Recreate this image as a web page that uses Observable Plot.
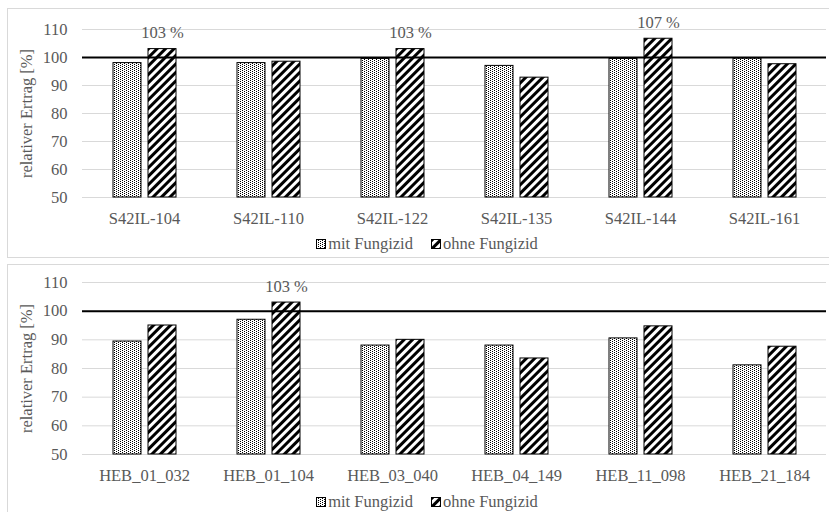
<!DOCTYPE html>
<html><head><meta charset="utf-8">
<script src="https://cdn.jsdelivr.net/npm/d3@7"></script>
<script src="https://cdn.jsdelivr.net/npm/@observablehq/plot@0.6"></script>
<style>
body{margin:0;background:#fff;width:829px;height:512px;overflow:hidden;position:relative;font-family:"Liberation Serif","Times New Roman",serif;}
.panel{position:absolute;left:7px;width:840px;border:1px solid #d9d9d9;background:#fff}
.plot{position:absolute;left:0;top:0}
.legend{position:absolute;left:0;width:822px;text-align:center;font-size:16.5px;color:#595959;line-height:20px;padding-left:16px;box-sizing:border-box;white-space:nowrap}
.item{display:inline-flex;align-items:center;margin:0 9px}
.item svg{margin-right:2px}
</style></head>
<body>
<svg width="0" height="0" style="position:absolute">
<defs>
<pattern id="dots" width="4" height="2" patternUnits="userSpaceOnUse"><rect width="4" height="2" fill="#fff"/><rect x="0" y="0" width="1" height="1" fill="#000"/><rect x="2" y="1" width="1" height="1" fill="#000"/></pattern>
<pattern id="stripes" width="6" height="6" patternUnits="userSpaceOnUse" patternTransform="rotate(45)"><rect width="6" height="6" fill="#fff"/><rect width="3" height="6" fill="#000"/></pattern>
</defs></svg>
<div class="panel" id="p1" style="top:8px;height:248px"></div>
<div class="panel" id="p2" style="top:264px;height:260px"></div>
<script>
const series = ["mit Fungizid", "ohne Fungizid"];
const seriesFill = ["url(#dots)", "url(#stripes)"];
const linesA = ["S42IL-104","S42IL-110","S42IL-122","S42IL-135","S42IL-144","S42IL-161"];
const mitA = [98, 98, 99.5, 97, 99.5, 99.6];
const ohneA = [103, 98.5, 103, 92.8, 106.7, 97.6];
const linesB = ["HEB_01_032","HEB_01_104","HEB_03_040","HEB_04_149","HEB_11_098","HEB_21_184"];
const mitB = [89.4, 97, 88, 88, 90.5, 81.1];
const ohneB = [95, 103, 90, 83.5, 94.7, 87.6];
const yTicks = [50, 60, 70, 80, 90, 100, 110];
const reference = 100;
const yLabel = "relativer Ertrag [%]";
const FONT = "'Liberation Serif', 'Times New Roman', serif";

function makePanel(el, lines, mit, ohne, marginTop, plotHeight, legendTop) {
  const data = lines.flatMap((c, i) => [
    {cat: c, s: series[0], v: mit[i]},
    {cat: c, s: series[1], v: ohne[i]}
  ]);
  const chart = Plot.plot({
    width: 821, height: marginTop + plotHeight + 33,
    marginLeft: 74, marginRight: 3, marginTop, marginBottom: 33,
    style: {fontFamily: FONT, fontSize: "16px", color: "#595959", background: "transparent", overflow: "visible"},
    fx: {domain: lines, padding: 0, label: null},
    x: {domain: series, paddingInner: 0.2, paddingOuter: 0.871, axis: null},
    y: {domain: [50, 110], label: null},
    color: {type: "identity"},
    marks: [
      Plot.gridY(yTicks, {stroke: "#d9d9d9", strokeOpacity: 1}),
      Plot.axisY(yTicks, {tickSize: 0, tickPadding: 15, label: yLabel, labelArrow: "none", labelAnchor: "center", labelOffset: 62, fill: "#595959", fontSize: 16.5}),
      Plot.axisFx({anchor: "bottom", tickSize: 0, tickPadding: 15, label: null, fill: "#595959", fontSize: 16.5}),
      Plot.barY(data, {fx: "cat", x: "s", y1: 50, y2: "v", fill: d => seriesFill[series.indexOf(d.s)], stroke: "#000", strokeWidth: 1}),
      Plot.ruleY([reference], {stroke: "#000", strokeWidth: 2}),
      Plot.text(data.filter(d => d.s === series[1] && d.v > reference), {fx: "cat", x: "s", y: "v", text: d => `${Math.round(d.v)} %`, dy: -16, fill: "#595959", fontSize: 16.5})
    ]
  });
  chart.classList.add("plot");
  el.appendChild(chart);
  const leg = document.createElement("div");
  leg.className = "legend";
  leg.style.top = legendTop + "px";
  series.forEach((s, i) => {
    const it = document.createElement("span");
    it.className = "item";
    it.innerHTML = `<svg width="10" height="10"><rect x="0.5" y="0.5" width="9" height="9" fill="${seriesFill[i]}" stroke="#000"/></svg>${s}`;
    leg.appendChild(it);
  });
  el.appendChild(leg);
}
makePanel(document.getElementById("p1"), linesA, mitA, ohneA, 20, 168, 225);
makePanel(document.getElementById("p2"), linesB, mitB, ohneB, 17, 172, 227);
</script>
</body></html>
